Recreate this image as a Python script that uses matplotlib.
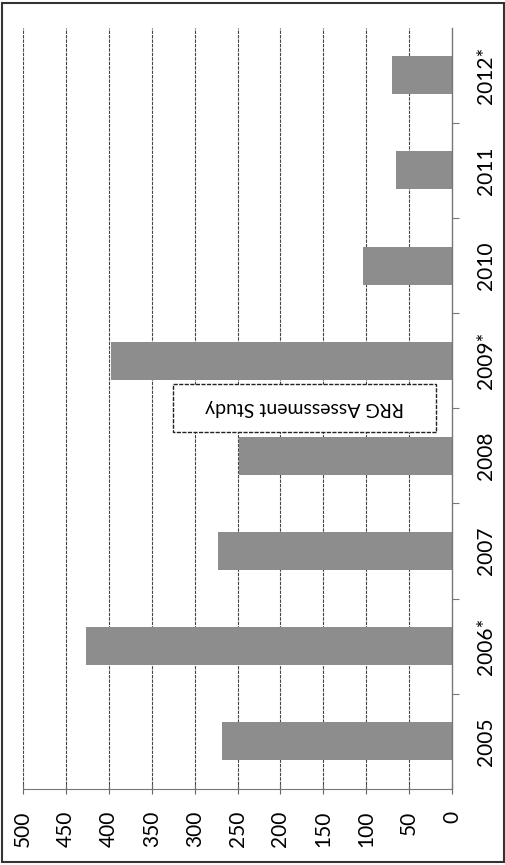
import numpy as np
import matplotlib
matplotlib.use("Agg")
import matplotlib.pyplot as plt
from matplotlib.patches import Rectangle

plt.rcParams['font.family'] = ['Lato', 'DejaVu Sans']

years = ["2005", "2006*", "2007", "2008", "2009*", "2010", "2011", "2012*"]
counts = [268, 427, 273, 248, 397, 104, 65, 70]
value_ticks = [0, 50, 100, 150, 200, 250, 300, 350, 400, 450, 500]
note = "RRG Assessment Study"

fig = plt.figure(figsize=(5.06, 8.65), dpi=100)
ax = fig.add_axes([0.0455, 0.088, 0.848, 0.880])

pos = np.arange(len(years))
ax.barh(pos, counts, height=0.4, color='#8d8d8d', zorder=2)

# value axis: 0 on the right, 500 on the left
ax.set_xlim(500, 0)
ax.set_ylim(-0.5, len(years) - 0.5)
ax.set_xticks(value_ticks)
ax.set_xticklabels([str(v) for v in value_ticks], rotation=90, fontsize=15)
ax.tick_params(axis='x', direction='inout', length=7, width=0.8,
               color='#666666', pad=12)
for v in value_ticks[1:]:
    ax.axvline(v, color='#444444', lw=0.8, ls=(0, (3, 1)), zorder=1)

# categories on the right side
ax.yaxis.tick_right()
ax.set_yticks(pos)
ax.set_yticklabels(years, rotation=90, va='center', fontsize=15)
ax.set_yticks(pos[:-1] + 0.5, minor=True)
ax.tick_params(axis='y', which='major', length=0, pad=17)
ax.tick_params(axis='y', which='minor', direction='out', length=5,
               width=0.8, color='#777777')

for s in ['top', 'left']:
    ax.spines[s].set_visible(False)
ax.spines['bottom'].set_color('#777777')
ax.spines['bottom'].set_linestyle((0, (4, 1)))
ax.spines['right'].set_color('#777777')
ax.spines['right'].set_linewidth(1.0)

# annotation box between 2008 and 2009*
box_x0, box_x1 = 19, 325
box_y0, box_y1 = 3.25, 3.76
ax.add_patch(Rectangle((box_x0, box_y0), box_x1 - box_x0, box_y1 - box_y0,
                       facecolor='white', edgecolor='#222222', lw=1.0,
                       ls=(0, (3, 1)), zorder=3))
ax.text((box_x0 + box_x1) / 2, (box_y0 + box_y1) / 2, note, rotation=180,
        ha='center', va='center', fontsize=14, zorder=4)

# scanned page border
fig.add_artist(Rectangle((0.003, 0.003), 0.994, 0.994, transform=fig.transFigure,
                         fill=False, edgecolor='#333333', lw=1.5))

fig.savefig("out.png", dpi=100)
